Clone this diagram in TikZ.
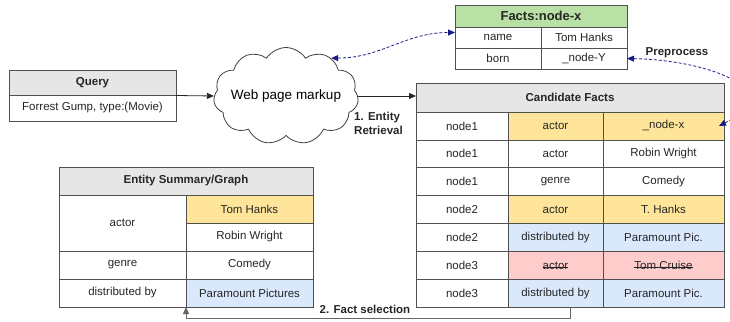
\documentclass[tikz,border=0pt]{standalone}
\usepackage{fontspec}
\setmainfont{Liberation Sans}
\usepackage{tikz}
\usetikzlibrary{shapes.symbols, arrows.meta, positioning, fit, calc}
\definecolor{headgray}{RGB}{230,230,230}
\definecolor{headgreen}{RGB}{185,224,165}
\definecolor{hlyellow}{RGB}{255,229,153}
\definecolor{hlblue}{RGB}{218,232,252}
\definecolor{hlred}{RGB}{255,204,204}
\definecolor{linkblue}{RGB}{25,25,135}
\definecolor{cellborder}{RGB}{80,80,80}
\newcommand{\strikeout}[1]{\leavevmode\setbox0\hbox{#1}\rlap{\raisebox{0.33ex}{\rule{\wd0}{0.6pt}}}\box0}
\tikzset{
    cell/.style={rectangle, draw=cellborder, line width=0.8pt, inner sep=0pt, outer sep=0pt, font=\fontsize{11.5}{13}\selectfont, text=black!85},
    headcell/.style={cell, fill=headgray, font=\fontsize{11.5}{13}\selectfont\bfseries},
    arrow/.style={-{Triangle[length=7pt, width=6pt]}, line width=0.8pt, black!85},
    linkarrow/.style={{Triangle[length=7pt, width=6pt]}-{Triangle[length=7pt, width=6pt]}, densely dashed, linkblue, line width=0.8pt},
    steplabel/.style={font=\fontsize{11.5}{14}\selectfont\bfseries, text=black!85, align=left, inner sep=0pt},
}

\begin{document}
\begin{tikzpicture}[
    x=1pt, y=1pt,
    fxcell/.style={cell, minimum width=86, minimum height=21},
    qcell/.style={cell, minimum width=167},
    ca/.style={cell, minimum width=92, minimum height=27.9},
    cb/.style={cell, minimum width=95, minimum height=27.9},
    cc/.style={cell, minimum width=121, minimum height=27.9},
    ecell/.style={cell, minimum width=127, minimum height=28},
    selarrow/.style={arrow, black!60, line width=1pt}
]
\useasboundingbox (0,0) rectangle (730,-321);

\node[headcell, fill=headgreen, minimum width=172, minimum height=22, anchor=north west, font=\fontsize{13}{15}\selectfont\bfseries] (fx-title) at (455,-5) {Facts:node-x};
\node[fxcell, below right=0pt and 0pt of fx-title.south west] (fx-name) {name};
\node[fxcell, right=0pt of fx-name] (fx-hanks) {Tom Hanks};
\node[fxcell, below=0pt of fx-name] (fx-born) {born};
\node[fxcell, right=0pt of fx-born] (fx-nodey) {\_node-Y};

\node[qcell, headcell, minimum height=25, anchor=north west] (query-title) at (9,-70) {Query};
\node[qcell, minimum height=26, below=0pt of query-title] (query-text) {Forrest Gump, type:(Movie)};
\node[fit=(query-title)(query-text), inner sep=0pt] (query-box) {};

% the cloud keeps its own size, the label is not allowed to widen it
\node[cloud, draw=black!75, fill=white, line width=0.8pt, cloud puffs=11, cloud puff arc=115, aspect=1.5, minimum width=145, minimum height=97, inner sep=0pt, font=\fontsize{13.5}{15}\selectfont] (markup) at (286,-96) {\makebox[0pt]{Web page markup}};

\node[headcell, minimum width=308, minimum height=29, anchor=north west] (cand-title) at (416,-83) {Candidate Facts};
\node[ca, below right=0pt and 0pt of cand-title.south west] (cand-1a) {node1};
\node[cb, fill=hlyellow, right=0pt of cand-1a] (cand-1b) {actor};
\node[cc, fill=hlyellow, right=0pt of cand-1b] (cand-1c) {\_node-x};
\node[ca, below=0pt of cand-1a] (cand-2a) {node1};
\node[cb, right=0pt of cand-2a] (cand-2b) {actor};
\node[cc, right=0pt of cand-2b] (cand-2c) {Robin Wright};
\node[ca, below=0pt of cand-2a] (cand-3a) {node1};
\node[cb, right=0pt of cand-3a] (cand-3b) {genre};
\node[cc, right=0pt of cand-3b] (cand-3c) {Comedy};
\node[ca, below=0pt of cand-3a] (cand-4a) {node2};
\node[cb, fill=hlyellow, right=0pt of cand-4a] (cand-4b) {actor};
\node[cc, fill=hlyellow, right=0pt of cand-4b] (cand-4c) {T. Hanks};
\node[ca, below=0pt of cand-4a] (cand-5a) {node2};
\node[cb, fill=hlblue, right=0pt of cand-5a] (cand-5b) {distributed by};
\node[cc, fill=hlblue, right=0pt of cand-5b] (cand-5c) {Paramount Pic.};
\node[ca, below=0pt of cand-5a] (cand-6a) {node3};
\node[cb, fill=hlred, right=0pt of cand-6a] (cand-6b) {\strikeout{actor}};
\node[cc, fill=hlred, right=0pt of cand-6b] (cand-6c) {\strikeout{Tom Cruise}};
\node[ca, below=0pt of cand-6a] (cand-7a) {node3};
\node[cb, fill=hlblue, right=0pt of cand-7a] (cand-7b) {distributed by};
\node[cc, fill=hlblue, right=0pt of cand-7b] (cand-7c) {Paramount Pic.};

\node[headcell, minimum width=254, minimum height=28, anchor=north west] (ent-title) at (59,-167) {Entity Summary/Graph};
\node[ecell, minimum height=56, below right=0pt and 0pt of ent-title.south west] (ent-actor) {actor};
\node[ecell, fill=hlyellow, below left=0pt and 0pt of ent-title.south east] (ent-hanks) {Tom Hanks};
\node[ecell, below=0pt of ent-hanks] (ent-wright) {Robin Wright};
\node[ecell, below=0pt of ent-actor] (ent-genre) {genre};
\node[ecell, right=0pt of ent-genre] (ent-comedy) {Comedy};
\node[ecell, below=0pt of ent-genre] (ent-dist) {distributed by};
\node[ecell, fill=hlblue, right=0pt of ent-dist] (ent-paramount) {Paramount Pictures};

\node[steplabel, anchor=north west] (retrieval-label) at (354,-112) {1. Entity\\Retrieval};
\node[steplabel] (preprocess-label) at (677,-53) {Preprocess};
\node[steplabel] (select-label) at (365,-309) {2. Fact selection};

\coordinate (select-start) at (570,-307);

\draw[arrow] (query-box.east) -- (markup.west);
\draw[arrow] (markup.east) -- (cand-title.west |- markup.east);

\draw[linkarrow] (markup.40) to[out=0, in=180] ([yshift=5]fx-name.west);
\draw[linkarrow] (fx-nodey.east) .. controls +(80,-1.5) and +(71,36) .. ([xshift=-5]cand-1c.east);

\draw[selarrow] (select-start) -- ++(0,-11) -| (ent-paramount.south west);

\end{tikzpicture}
\end{document}
